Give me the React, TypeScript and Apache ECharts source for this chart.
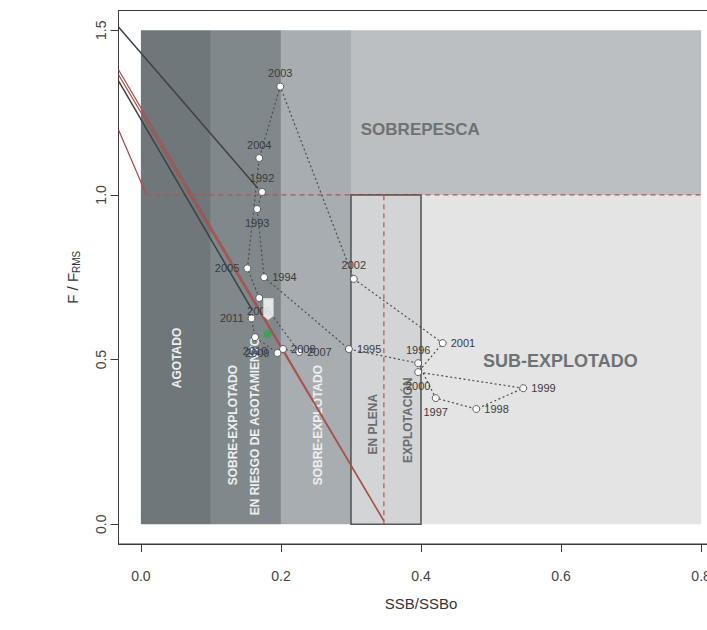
import { useEffect, useRef } from "react";
import * as echarts from "echarts";

// ---- trajectory (SSB/SSBo, F/FRMS) ----
const years = [1992, 1993, 1994, 1995, 1996, 1997, 1998, 1999, 2000, 2001, 2002, 2003, 2004, 2005, 2006, 2007, 2008, 2009, 2010, 2011];
const ssbRatio = [0.173, 0.166, 0.176, 0.297, 0.396, 0.421, 0.479, 0.546, 0.396, 0.431, 0.304, 0.199, 0.169, 0.152, 0.169, 0.226, 0.203, 0.195, 0.163, 0.158];
const fRatio = [1.009, 0.957, 0.75, 0.532, 0.489, 0.383, 0.35, 0.413, 0.462, 0.55, 0.745, 1.329, 1.112, 0.777, 0.687, 0.523, 0.532, 0.52, 0.568, 0.625];
const yearLabelSide = ["top", "bottom", "right", "right", "top", "bottom", "right", "right", "bottom", "right", "top", "top", "top", "left", "bottom", "right", "right", "left", "bottom", "left"];

// current status markers
const arrowPoint = [0.182, 0.653];
const currentPoint = [0.181, 0.577];

// ---- axes ----
const xTicks = [0, 0.2, 0.4, 0.6, 0.8];
const yTicks = [0, 0.5, 1.0, 1.5];
const xRange = [-0.032, 0.832];
const yRange = [-0.06, 1.56];

// ---- status zones: x0, x1, y0, y1 ----
const zoneX0 = [0, 0.1, 0.2, 0.3, 0.4, 0.3];
const zoneX1 = [0.1, 0.2, 0.3, 0.8, 0.8, 0.4];
const zoneY0 = [0, 0, 0, 1.0, 0, 0];
const zoneY1 = [1.5, 1.5, 1.5, 1.5, 1.0, 1.0];

// ---- zone labels ----
const zoneLabelText = ["AGOTADO", "SOBRE-EXPLOTADO", "EN RIESGO DE AGOTAMIENTO", "SOBRE-EXPLOTADO", "EN PLENA", "EXPLOTACIÓN", "SOBREPESCA", "SUB-EXPLOTADO"];
const zoneLabelX = [0.051, 0.131, 0.163, 0.253, 0.331, 0.381, 0.399, 0.599];
const zoneLabelY = [0.505, 0.301, 0.298, 0.301, 0.304, 0.316, 1.198, 0.495];

// ---- reference lines ----
const dark1X = [-0.032, 0.167];
const dark1Y = [1.51, 1.02];
const dark2X = [-0.032, 0.159];
const dark2Y = [1.346, 0.65];
const redAX = [-0.032, 0.347];
const redAY = [1.38, 0.01];
const redBX = [-0.032, 0.347];
const redBY = [1.365, 0.01];
const redCX = [-0.032, 0.008];
const redCY = [1.198, 1.0];
const limitHX = [0.008, 0.8];
const limitHY = [1.0, 1.0];
const limitVX = [0.347, 0.347];
const limitVY = [0, 1.0];

// ---- styles (kept apart from data) ----
const FONT = "'Liberation Sans', Arial, Helvetica, sans-serif";
const zoneFill = ["#6f777b", "#80888c", "#a7adb0", "#bbbfc1", "#e4e4e4", "#d3d4d5"];
const zoneStroke = [null, null, null, null, null, "#55595b"];
const zoneLabelVertical = [true, true, true, true, true, true, false, false];
const zoneLabelColor = ["#eef0f0", "#eef0f0", "#eef0f0", "#eef0f0", "#6a6d6f", "#6a6d6f", "#6e7274", "#6e7274"];
const zoneLabelSize = [12, 12, 12, 12, 12, 12, 17, 18];

const pairs = (xs: number[], ys: number[]) => xs.map((x, i) => [x, ys[i]]);

function refLine(xs: number[], ys: number[], color: string, width: number, type: any) {
  return {
    type: "line",
    data: pairs(xs, ys),
    symbol: "none",
    silent: true,
    z: 3,
    lineStyle: { color, width, type },
  };
}

export default function App() {
  const ref = useRef<HTMLDivElement>(null);

  useEffect(() => {
    document.body.style.margin = "0";
    document.body.style.overflow = "hidden";
    if (!ref.current) return;
    const chart = echarts.init(ref.current, null, { renderer: "svg" });

    const option: any = {
      animation: false,
      backgroundColor: "#ffffff",
      textStyle: { fontFamily: FONT },
      grid: {
        left: 118.5,
        top: 10.5,
        width: 605,
        height: 533.5,
        containLabel: false,
        outerBoundsMode: "none",
        show: true,
        borderColor: "#3a3a3a",
        borderWidth: 1,
        backgroundColor: "transparent",
      },
      xAxis: {
        type: "value",
        min: xRange[0],
        max: xRange[1],
        name: "SSB/SSBo",
        nameLocation: "middle",
        nameGap: 52,
        nameTextStyle: { fontSize: 15, color: "#333", fontFamily: FONT },
        axisLine: { show: true, onZero: false, lineStyle: { color: "#3a3a3a" } },
        axisTick: { show: true, length: 8, customValues: xTicks, lineStyle: { color: "#3a3a3a" } },
        axisLabel: {
          customValues: xTicks,
          margin: 25,
          fontSize: 14,
          color: "#444",
          fontFamily: FONT,
          formatter: (v: number) => v.toFixed(1),
        },
        splitLine: { show: false },
      },
      yAxis: {
        type: "value",
        min: yRange[0],
        max: yRange[1],
        name: "{m|F / F}{s|RMS}",
        nameLocation: "middle",
        nameGap: 38,
        nameRotate: 90,
        nameTextStyle: {
          color: "#333",
          fontFamily: FONT,
          rich: {
            m: { fontSize: 15, color: "#333", fontFamily: FONT, verticalAlign: "top", lineHeight: 16 },
            s: { fontSize: 10, color: "#333", fontFamily: FONT, verticalAlign: "top", lineHeight: 11, padding: [7, 0, 0, 0] },
          },
        },
        axisLine: { show: true, onZero: false, lineStyle: { color: "#3a3a3a" } },
        axisTick: { show: true, length: 8, customValues: yTicks, lineStyle: { color: "#3a3a3a" } },
        axisLabel: {
          customValues: yTicks,
          rotate: 90,
          margin: 11,
          fontSize: 14,
          color: "#444",
          fontFamily: FONT,
          formatter: (v: number) => v.toFixed(1),
        },
        splitLine: { show: false },
      },
      series: [
        {
          type: "custom",
          coordinateSystem: "cartesian2d",
          silent: true,
          z: 1,
          encode: { x: [0, 1], y: [2, 3] },
          data: zoneX0.map((x0, i) => [x0, zoneX1[i], zoneY0[i], zoneY1[i], i]),
          renderItem: (_p: any, api: any) => {
            const i = api.value(4);
            const a = api.coord([api.value(0), api.value(3)]);
            const b = api.coord([api.value(1), api.value(2)]);
            return {
              type: "rect",
              shape: { x: a[0], y: a[1], width: b[0] - a[0], height: b[1] - a[1] },
              style: {
                fill: zoneFill[i],
                stroke: zoneStroke[i] || "none",
                lineWidth: zoneStroke[i] ? 1.6 : 0,
              },
            };
          },
        },
        {
          type: "custom",
          coordinateSystem: "cartesian2d",
          silent: true,
          z: 2,
          encode: { x: 0, y: 1 },
          data: zoneLabelX.map((x, i) => [x, zoneLabelY[i], i]),
          renderItem: (_p: any, api: any) => {
            const i = api.value(2);
            const p = api.coord([api.value(0), api.value(1)]);
            return {
              type: "text",
              x: p[0],
              y: p[1],
              rotation: zoneLabelVertical[i] ? Math.PI / 2 : 0,
              style: {
                text: zoneLabelText[i],
                fill: zoneLabelColor[i],
                fontSize: zoneLabelSize[i],
                fontWeight: "bold",
                fontFamily: FONT,
                align: "center",
                verticalAlign: "middle",
                textAlign: "center",
                textVerticalAlign: "middle",
              },
            };
          },
        },
        refLine(limitHX, limitHY, "#b0554e", 1.2, [5, 4]),
        refLine(limitVX, limitVY, "#b0554e", 1.2, [5, 4]),
        refLine(dark1X, dark1Y, "#3b4144", 1.5, "solid"),
        refLine(dark2X, dark2Y, "#3b4144", 1.5, "solid"),
        refLine(redAX, redAY, "#a8504c", 1.3, "solid"),
        refLine(redBX, redBY, "#a8504c", 1.3, "solid"),
        refLine(redCX, redCY, "#a8504c", 1.3, "solid"),
        {
          type: "line",
          z: 4,
          silent: true,
          symbol: "circle",
          symbolSize: 7,
          showSymbol: true,
          lineStyle: { color: "#4a4d4f", width: 1.2, type: [2, 2.5] },
          itemStyle: { color: "#ffffff", borderColor: "#5a5d5f", borderWidth: 1 },
          data: years.map((y, i) => ({
            value: [ssbRatio[i], fRatio[i]],
            label: {
              show: true,
              position: yearLabelSide[i],
              distance: 4,
              formatter: String(y),
              fontSize: 11,
              color: "#3a3a3a",
              fontFamily: FONT,
            },
          })),
        },
        {
          type: "scatter",
          z: 5,
          silent: true,
          symbol: "path://M0,0 L10,0 L10,17 L5,21 L0,17 Z",
          symbolSize: [10, 21],
          itemStyle: { color: "#ffffff", borderColor: "#d8d8d8", borderWidth: 0.8 },
          data: [arrowPoint],
        },
        {
          type: "scatter",
          z: 5,
          silent: true,
          symbol: "circle",
          symbolSize: 8,
          itemStyle: { color: "#2fa84f" },
          data: [currentPoint],
        },
      ],
    };

    chart.setOption(option);
    return () => chart.dispose();
  }, []);

  return (
    <div style={{ width: 707, height: 630, overflow: "hidden", position: "relative", background: "#fff" }}>
      <div ref={ref} style={{ width: 740, height: 630 }} />
    </div>
  );
}
